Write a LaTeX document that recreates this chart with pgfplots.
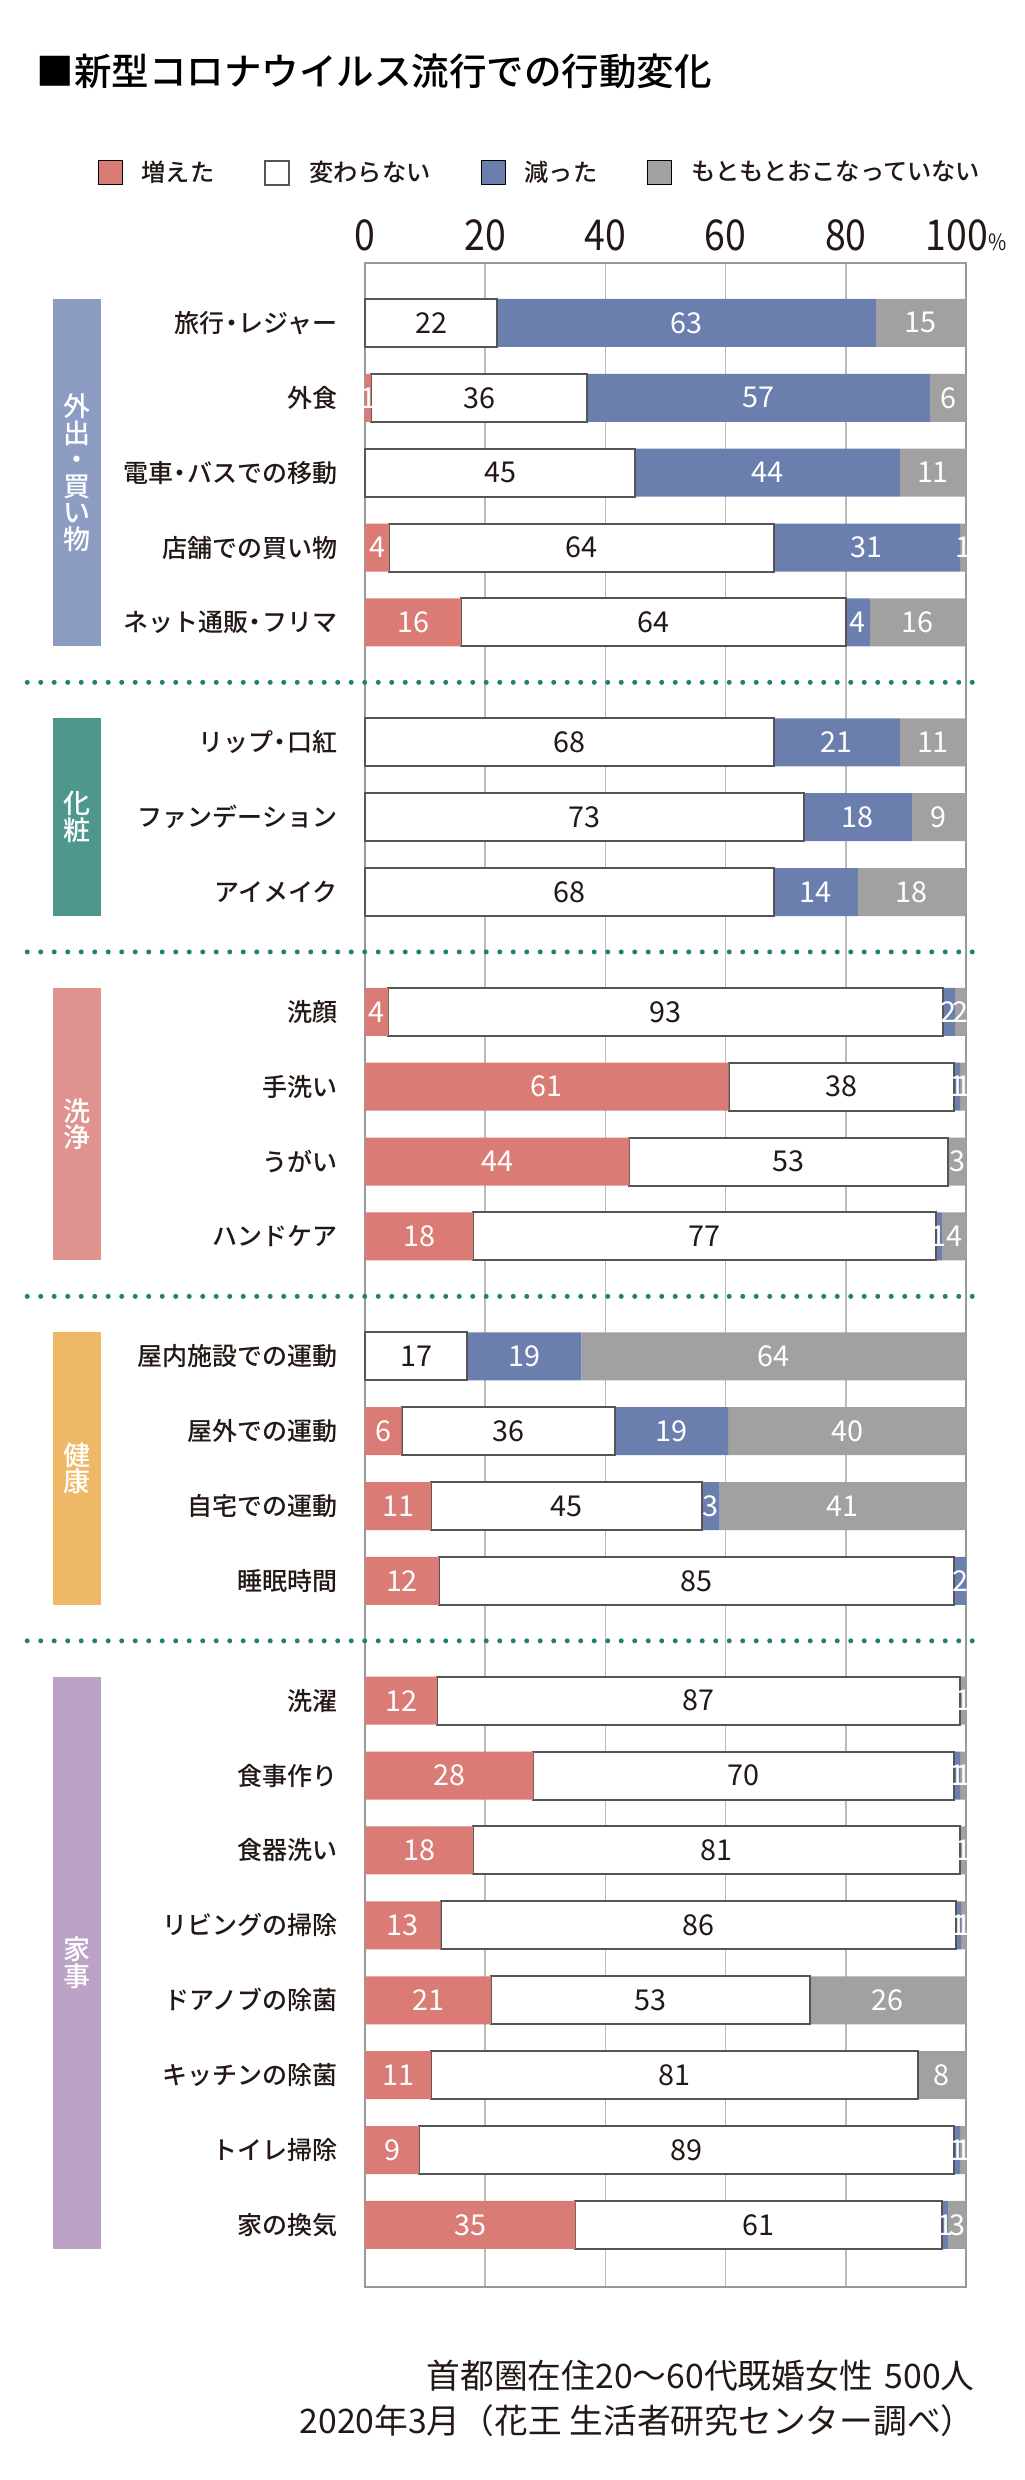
\documentclass[border=0pt]{standalone}
\usepackage{fontspec}
\usepackage{pgfplots}
\usepackage{pgfplotstable}
\pgfplotsset{compat=1.18}
\setmainfont{Noto Sans CJK JP}
\newfontfamily\jp{Noto Sans CJK JP}
\IfFontExistsTF{Noto Sans CJK JP Medium}{\newfontfamily\jpm{Noto Sans CJK JP Medium}}{\newfontfamily\jpm{Noto Sans CJK JP}[FakeBold=1.2]}
\newfontfamily\numf{Noto Sans CJK JP}[FakeStretch=0.88]
\newcommand{\dt}{\kern-0.22em・\kern-0.22em}

\definecolor{cUp}{HTML}{DA7B75}
\definecolor{cDown}{HTML}{6B7FAF}
\definecolor{cNone}{HTML}{A0A1A0}
\definecolor{cEdge}{HTML}{555555}
\definecolor{cGrid}{HTML}{BBBBBB}
\definecolor{cFrame}{HTML}{999999}
\definecolor{gA}{HTML}{8D9CC3}
\definecolor{gB}{HTML}{4E978C}
\definecolor{gC}{HTML}{E0928E}
\definecolor{gD}{HTML}{EEB866}
\definecolor{gE}{HTML}{BBA2C6}
\definecolor{cDot}{HTML}{1F8175}
\definecolor{cText}{HTML}{231815}

% a = 増えた, b = 変わらない, c = 減った, d = もともとおこなっていない ; la..ld = printed labels
\pgfplotstableread{
y    a     b     c     d     la lb lc ld
0    0     22    63    15    {} 22 63 15
1    1     36    57    6     1  36 57 6
2    0     45    44    11    {} 45 44 11
3    4     64    31    1     4  64 31 1
4    16    64    4     16    16 64 4  16
5.6  0     68    21    11    {} 68 21 11
6.6  0     73    18    9     {} 73 18 9
7.6  0     68    14    18    {} 68 14 18
9.2  3.9   92.2  2.1   1.8   4  93 2  2
10.2 60.5  37.55 0.95  1.0   61 38 1  1
11.2 44    53    0     3     44 53 {} 3
12.2 18    77    1     4     18 77 1  4
13.8 0     17    19    64    {} 17 19 64
14.8 6.1   35.5  18.8  39.6  6  36 19 40
15.8 11    45    3     41    11 45 3  41
16.8 12.3  85.7  2.0   0     12 85 2  {}
18.4 12    87    0     1     12 87 {} 1
19.4 28    70    1     1     28 70 1  1
20.4 18    81    0     1     18 81 {} 1
21.4 12.6  85.8  0.8   0.8   13 86 1  1
22.4 21    53    0     26    21 53 {} 26
23.4 11    81    0     8     11 81 {} 8
24.4 9     89    1     1     9  89 1  1
25.4 35    61    1     3     35 61 1  3
}\data
\pgfplotstablecreatecol[create col/expr={\thisrow{a}/2}]{ca}{\data}
\pgfplotstablecreatecol[create col/expr={\thisrow{a}+\thisrow{b}/2}]{cb}{\data}
\pgfplotstablecreatecol[create col/expr={\thisrow{a}+\thisrow{b}+\thisrow{c}/2}]{cc}{\data}
\pgfplotstablecreatecol[create col/expr={\thisrow{a}+\thisrow{b}+\thisrow{c}+\thisrow{d}/2}]{cd}{\data}

\pgfplotsset{
  common/.style={
    at={(146pt,-105.2pt)}, anchor=north west,
    scale only axis, width=240.4pt, height=809.6pt,
    xmin=0, xmax=100, ymin=-0.8, ymax=26.23, y dir=reverse,
  },
  lbl/.style={draw=none, mark=none, nodes near coords, point meta=explicit symbolic,
    every node near coord/.append style={anchor=center, font=\jp\fontsize{11.5}{11.5}\selectfont, text=#1, inner sep=0pt}},
}
\tikzset{
  sep/.style={cDot, line width=2pt, line cap=round, dash pattern=on 0pt off 5.4pt},
  band/.style={text=white, align=center, inner sep=0pt, font=\jpm\fontsize{10.8}{10.6}\selectfont},
}

\begin{document}
\begin{tikzpicture}
\useasboundingbox (0pt,0pt) rectangle (409.6pt,-992pt);
\node[anchor=west, inner sep=0pt, text=black, font=\jpm\fontsize{15}{15}\selectfont] at (14.4pt,-28.4pt) {■新型コロナウイルス流行での行動変化};

\begin{axis}[common,
  xbar stacked, bar width=19.2pt,
  clip=false,
  axis line style={cFrame, line width=0.8pt},
  xtick={0,20,40,60,80,100},
  xticklabels={0,20,40,60,80,{100{\fontsize{9}{9}\selectfont\%}}},
  xticklabel pos=top,
  xticklabel style={font=\numf\fontsize{17}{17}\selectfont, text=cText, inner sep=0pt, anchor=base, yshift=5.2pt},
  major tick length=0pt,
  xmajorgrids, grid style={cGrid, line width=0.6pt},
  ytick={0,1,2,3,4,5.6,6.6,7.6,9.2,10.2,11.2,12.2,13.8,14.8,15.8,16.8,18.4,19.4,20.4,21.4,22.4,23.4,24.4,25.4},
  yticklabels={旅行\dt レジャー,外食,電車\dt バスでの移動,店舗での買い物,ネット通販\dt フリマ,
    リップ\dt 口紅,ファンデーション,アイメイク,
    洗顔,手洗い,うがい,ハンドケア,
    屋内施設での運動,屋外での運動,自宅での運動,睡眠時間,
    洗濯,食事作り,食器洗い,リビングの掃除,ドアノブの除菌,キッチンの除菌,トイレ掃除,家の換気},
  yticklabel style={font=\jpm\fontsize{10}{10}\selectfont, text=cText, inner sep=0pt, anchor=east, xshift=-10.8pt},
  legend columns=4,
  legend style={at={(-0.4459,1.0446)}, anchor=west, draw=none, fill=none, inner sep=0pt,
    font=\jpm\fontsize{9.7}{10}\selectfont, text=cText,
    /tikz/every even column/.append style={column sep=18pt},
    /tikz/every odd column/.append style={column sep=5.6pt}},
  legend image code/.code={\draw[#1] (0pt,-4.8pt) rectangle (9.6pt,4.8pt);},
]
\addplot[fill=cUp, draw=none] table[x=a, y=y] {\data};
\addlegendentry{増えた}
\addplot[fill=white, draw=cEdge, line width=0.8pt] table[x=b, y=y] {\data};
\addlegendentry{変わらない}
\addplot[fill=cDown, draw=none] table[x=c, y=y] {\data};
\addlegendentry{減った}
\addplot[fill=cNone, draw=none] table[x=d, y=y] {\data};
\addlegendentry{もともとおこなっていない}

% group separators
\draw[sep] (axis cs:-56.2,4.8) -- (axis cs:102.5,4.8);
\draw[sep] (axis cs:-56.2,8.4) -- (axis cs:102.5,8.4);
\draw[sep] (axis cs:-56.2,13.0) -- (axis cs:102.5,13.0);
\draw[sep] (axis cs:-56.2,17.6) -- (axis cs:102.5,17.6);
% group band corners and centres
\coordinate (A1) at (axis cs:-51.96,-0.32); \coordinate (A2) at (axis cs:-43.93,4.32); \coordinate (Ac) at (axis cs:-47.95,2);
\coordinate (B1) at (axis cs:-51.96,5.28);  \coordinate (B2) at (axis cs:-43.93,7.92); \coordinate (Bc) at (axis cs:-47.95,6.6);
\coordinate (C1) at (axis cs:-51.96,8.88);  \coordinate (C2) at (axis cs:-43.93,12.52); \coordinate (Cc) at (axis cs:-47.95,10.7);
\coordinate (D1) at (axis cs:-51.96,13.48); \coordinate (D2) at (axis cs:-43.93,17.12); \coordinate (Dc) at (axis cs:-47.95,15.3);
\coordinate (E1) at (axis cs:-51.96,18.08); \coordinate (E2) at (axis cs:-43.93,25.72); \coordinate (Ec) at (axis cs:-47.95,21.9);
\end{axis}

\fill[gA] (A1) rectangle (A2);
\fill[gB] (B1) rectangle (B2);
\fill[gC] (C1) rectangle (C2);
\fill[gD] (D1) rectangle (D2);
\fill[gE] (E1) rectangle (E2);
\node[band] at (Ac) {外\\出\\・\\買\\い\\物};
\node[band] at (Bc) {化\\粧};
\node[band] at (Cc) {洗\\浄};
\node[band] at (Dc) {健\\康};
\node[band] at (Ec) {家\\事};

\begin{axis}[common, hide axis]
\addplot[lbl=white] table[x=ca, y=y, meta=la] {\data};
\addplot[lbl=cText] table[x=cb, y=y, meta=lb] {\data};
\addplot[lbl=white] table[x=cc, y=y, meta=lc] {\data};
\addplot[lbl=white] table[x=cd, y=y, meta=ld] {\data};
\end{axis}

\node[anchor=east, inner sep=0pt, text=cText, font=\jp\fontsize{13.5}{13.5}\selectfont] at (390pt,-950.4pt) {首都圏在住20〜60代既婚女性\hspace{0.35em}500人};
\node[anchor=east, inner sep=0pt, text=cText, font=\jp\fontsize{13.5}{13.5}\selectfont] at (390pt,-968.4pt) {2020年3月（花王 生活者研究センター調べ）};
\end{tikzpicture}
\end{document}
